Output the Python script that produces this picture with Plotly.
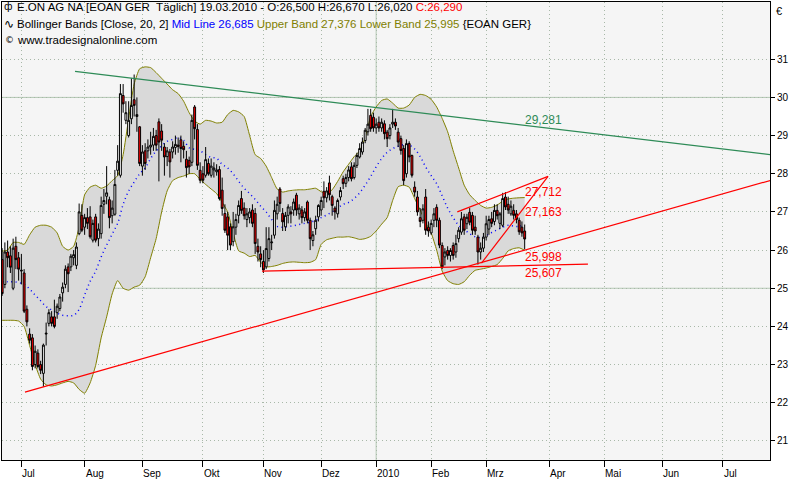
import plotly.graph_objects as go

# ---------------- data (trading-day index, 0 = 1 Jul 2009; last bar 19 Mar 2010 = 183) ----------------
first_day = -7

opens = [25.75, 25.10, 25.95, 25.85, 25.00, 26.10, 25.80,
         25.45, 25.40, 24.45, 23.80, 23.70, 23.00, 23.30, 23.00, 22.77, 23.80,
         24.08, 24.25, 24.25, 24.36, 24.47, 24.88, 25.10, 25.56, 25.56, 25.80,
         25.60, 26.43, 26.91, 26.60, 26.85, 26.87, 26.26, 26.87, 26.30, 26.43,
         27.20, 27.41, 27.32, 26.90, 26.94, 28.09, 27.96, 30.05, 29.40, 29.00,
         29.44, 29.94, 29.50, 29.23, 28.20, 28.60, 28.60, 28.70, 28.75, 29.00,
         29.36, 29.12, 28.70, 28.45, 28.57, 28.57, 28.69, 28.75, 28.89, 28.72,
         28.38, 28.35, 28.30, 29.75, 29.16, 28.09, 28.00, 27.96, 28.27, 27.96,
         28.10, 28.05, 28.11, 27.57, 26.96, 26.87, 26.61, 26.22, 26.60, 26.91,
         27.35, 27.10, 26.80, 26.85, 27.05, 26.96, 26.10, 25.90, 25.70, 25.56,
         25.78, 26.19, 26.39, 26.95, 27.60, 26.96, 26.61, 26.91, 27.00, 27.05,
         27.44, 26.95, 27.05, 26.85, 27.26, 26.78, 26.25, 26.56, 26.87, 27.05,
         27.54, 27.37, 27.76, 27.40, 27.10, 26.95, 27.39, 27.87, 27.75, 27.90,
         28.18, 27.90, 28.22, 28.44, 28.57, 28.87, 29.10, 29.53, 29.48, 29.20,
         29.35, 29.20, 29.31, 29.09, 29.00, 29.30, 29.35, 29.09, 28.92, 28.66,
         28.00, 28.79, 28.48, 27.65, 27.39, 26.85, 26.78, 27.39, 26.60, 26.45,
         26.78, 27.12, 26.78, 26.12, 25.82, 25.99, 25.86, 26.12, 25.95, 26.30,
         26.47, 26.87, 26.69, 26.99, 26.91, 26.60, 26.34, 25.95, 26.05, 26.34,
         26.55, 26.82, 26.75, 27.04, 26.70, 26.65, 27.39, 27.20, 26.95, 27.04,
         26.95, 26.78, 26.60, 26.50]

highs = [26.05, 26.20, 26.25, 26.10, 26.30, 26.35, 25.95,
         25.90, 25.50, 24.55, 23.95, 23.80, 23.50, 23.40, 23.10, 23.55, 24.10,
         24.45, 24.40, 24.70, 24.60, 24.85, 25.15, 25.60, 25.65, 25.90, 26.00,
         26.20, 27.22, 27.20, 26.95, 27.10, 27.15, 26.80, 26.95, 26.70, 27.40,
         27.60, 28.20, 27.40, 27.30, 28.10, 28.75, 30.35, 30.35, 29.90, 29.90,
         30.50, 30.60, 30.00, 29.25, 28.75, 28.80, 28.90, 29.10, 29.20, 29.15,
         29.45, 29.30, 28.80, 28.70, 28.65, 28.85, 29.00, 28.95, 29.00, 28.85,
         28.60, 28.45, 29.55, 29.80, 29.30, 28.30, 28.20, 28.70, 28.40, 28.40,
         28.30, 28.25, 28.20, 27.90, 27.20, 27.00, 26.70, 27.00, 26.95, 27.30,
         27.55, 27.25, 27.10, 27.10, 27.20, 27.10, 26.30, 26.10, 26.00, 26.60,
         26.60, 26.40, 27.30, 27.40, 27.65, 27.10, 27.00, 27.20, 27.15, 27.35,
         27.50, 27.20, 27.15, 27.10, 27.30, 26.85, 26.50, 26.90, 27.20, 27.40,
         27.80, 27.65, 27.95, 27.45, 27.15, 27.35, 27.65, 27.95, 28.00, 28.20,
         28.30, 28.30, 28.55, 28.80, 28.95, 29.20, 29.70, 29.70, 29.60, 29.45,
         29.50, 29.45, 29.40, 29.15, 29.30, 29.70, 29.45, 29.20, 29.00, 28.75,
         28.90, 28.85, 28.50, 27.80, 27.55, 27.10, 27.20, 27.60, 26.75, 26.80,
         27.10, 27.20, 26.85, 26.20, 26.05, 26.10, 26.05, 26.20, 26.40, 26.60,
         27.00, 26.95, 26.95, 27.10, 27.00, 26.90, 26.40, 26.20, 26.45, 26.90,
         26.90, 27.00, 27.20, 27.20, 27.00, 27.50, 27.52, 27.40, 27.30, 27.20,
         27.05, 26.85, 26.75, 26.67]

lows = [24.80, 25.00, 25.55, 25.40, 24.95, 25.50, 25.20,
        25.10, 24.35, 24.00, 23.55, 22.85, 22.90, 22.90, 22.75, 22.42, 23.50,
        24.00, 24.00, 23.95, 24.20, 24.40, 24.65, 25.00, 24.90, 25.45, 25.60,
        25.50, 26.39, 26.47, 26.40, 26.55, 26.30, 26.20, 26.20, 26.10, 26.30,
        26.95, 27.20, 26.57, 26.70, 26.90, 27.95, 27.90, 29.60, 29.30, 28.95,
        29.30, 29.50, 29.10, 28.20, 27.95, 28.10, 28.40, 28.50, 28.60, 28.60,
        27.80, 28.60, 27.95, 28.20, 27.90, 28.40, 28.50, 28.55, 28.30, 28.40,
        27.90, 28.00, 28.20, 28.90, 28.10, 27.75, 27.75, 27.90, 27.95, 27.90,
        27.90, 27.95, 27.30, 26.90, 26.45, 26.00, 26.00, 26.10, 26.40, 26.70,
        26.95, 26.80, 26.60, 26.70, 26.60, 25.90, 25.70, 25.55, 25.40, 25.50,
        25.70, 26.00, 26.30, 26.80, 27.00, 26.50, 26.50, 26.70, 26.70, 26.90,
        26.90, 26.80, 26.70, 26.75, 26.70, 26.00, 26.10, 26.40, 26.75, 26.90,
        27.10, 27.25, 27.30, 26.90, 26.80, 26.85, 27.30, 27.60, 27.65, 27.80,
        27.80, 27.85, 28.15, 28.40, 28.50, 28.80, 29.00, 29.10, 29.10, 29.05,
        29.10, 29.10, 28.90, 28.70, 28.90, 29.20, 29.15, 28.70, 28.50, 27.70,
        27.90, 28.30, 27.90, 27.40, 26.90, 26.60, 26.70, 26.40, 26.35, 26.40,
        26.60, 26.60, 26.05, 25.50, 25.60, 25.75, 25.70, 25.75, 25.80, 26.20,
        26.40, 26.40, 26.55, 26.65, 26.40, 26.40, 25.62, 25.75, 25.95, 26.25,
        26.40, 26.60, 26.65, 26.80, 26.55, 26.60, 27.05, 26.95, 26.90, 26.80,
        26.70, 26.40, 26.35, 26.02]

closes = [24.86, 25.95, 25.80, 25.55, 26.05, 25.75, 25.50,
          25.47, 24.40, 24.12, 23.64, 22.95, 23.35, 22.95, 22.85, 23.51, 23.82,
          24.36, 24.08, 24.00, 24.53, 24.77, 25.03, 25.50, 25.38, 25.84, 25.88,
          26.08, 27.00, 26.52, 26.85, 26.70, 26.35, 26.70, 26.26, 26.55, 27.17,
          27.30, 27.50, 26.85, 27.10, 27.72, 28.33, 30.10, 29.83, 29.60, 29.40,
          29.79, 29.79, 29.55, 28.27, 28.57, 28.27, 28.70, 28.75, 28.98, 28.75,
          28.83, 28.88, 28.44, 28.60, 28.31, 28.70, 28.77, 28.72, 28.66, 28.63,
          28.16, 28.18, 29.40, 29.18, 28.22, 27.83, 27.83, 28.37, 28.00, 28.20,
          28.15, 28.10, 27.35, 27.09, 26.52, 26.39, 26.13, 26.61, 26.80, 27.17,
          27.04, 26.90, 26.95, 27.00, 26.70, 26.17, 25.95, 25.75, 25.48, 26.04,
          26.30, 26.21, 27.04, 27.20, 27.22, 26.74, 26.91, 27.13, 26.95, 27.26,
          27.05, 27.10, 26.85, 27.00, 26.78, 26.30, 26.40, 26.78, 27.17, 27.30,
          27.37, 27.55, 27.45, 27.17, 27.00, 27.30, 27.56, 27.74, 27.90, 28.10,
          27.87, 28.22, 28.48, 28.66, 28.83, 29.14, 29.30, 29.18, 29.20, 29.30,
          29.20, 29.35, 29.05, 28.92, 29.20, 29.35, 29.25, 28.83, 28.61, 27.82,
          28.79, 28.44, 27.96, 27.52, 27.00, 26.75, 27.08, 26.52, 26.50, 26.70,
          26.95, 26.78, 26.13, 25.56, 25.95, 25.86, 25.99, 25.86, 26.17, 26.52,
          26.82, 26.52, 26.86, 26.73, 26.52, 26.50, 25.95, 26.05, 26.34, 26.69,
          26.80, 26.70, 27.04, 26.90, 26.95, 27.35, 27.13, 27.05, 27.15, 26.91,
          26.80, 26.48, 26.45, 26.29]

days = list(range(first_day, first_day + len(closes)))

# Bollinger Bands [Close, 20, 2] read every second trading day
band_days = list(range(-7, 184, 2))
upper_band = [25.97, 26.00, 26.20, 26.20, 26.15, 26.40, 26.60, 26.65, 26.65, 26.60,
              26.45, 26.10, 26.00, 26.10, 26.60, 27.45, 27.65, 27.70, 27.62, 27.68,
              27.82, 27.95, 28.50, 29.45, 30.35, 30.75, 30.80, 30.78, 30.65, 30.50,
              30.35, 30.20, 30.10, 29.90, 29.60, 29.38, 29.30, 29.40, 29.38, 29.33,
              29.35, 29.55, 29.66, 29.62, 29.50, 29.00, 28.50, 28.40, 28.20, 27.90,
              27.60, 27.52, 27.55, 27.57, 27.58, 27.58, 27.60, 27.62, 27.53, 27.48,
              27.58, 27.80, 28.05, 28.25, 28.45, 28.60, 28.95, 29.50, 29.75, 29.92,
              29.96, 29.85, 29.72, 29.72, 29.80, 30.00, 30.08, 30.05, 29.95, 29.75,
              29.45, 29.10, 28.60, 28.15, 27.70, 27.45, 27.30, 27.17, 27.10, 27.12,
              27.18, 27.28, 27.34, 27.36, 27.37, 27.376]
lower_band = [24.16, 24.16, 24.16, 24.14, 24.00, 23.50, 23.00, 22.62, 22.47, 22.44,
              22.47, 22.52, 22.56, 22.52, 22.35, 22.25, 22.52, 22.98, 23.70, 24.25,
              24.85, 25.20, 25.00, 24.95, 25.03, 25.08, 25.30, 25.80, 26.30, 27.00,
              27.55, 27.82, 27.90, 27.94, 28.00, 28.00, 27.85, 27.72, 27.60, 27.48,
              27.25, 27.00, 26.45, 25.98, 25.92, 25.83, 25.86, 25.68, 25.56, 25.57,
              25.60, 25.65, 25.68, 25.69, 25.68, 25.67, 25.68, 25.75, 26.15, 26.27,
              26.31, 26.34, 26.34, 26.35, 26.32, 26.28, 26.30, 26.36, 26.50, 26.68,
              26.85, 27.30, 27.66, 27.70, 27.65, 27.35, 27.05, 26.72, 26.45, 26.00,
              25.45, 25.20, 25.12, 25.10, 25.17, 25.34, 25.47, 25.50, 25.53, 25.57,
              25.62, 25.78, 25.98, 26.04, 26.06, 25.995]
mid_line = [25.17, 25.17, 25.17, 25.15, 25.10, 24.98, 24.82, 24.67, 24.52, 24.43,
            24.35, 24.29, 24.28, 24.29, 24.45, 24.82, 25.18, 25.45, 25.82, 26.13,
            26.42, 26.70, 27.20, 27.55, 27.78, 28.00, 28.15, 28.40, 28.60, 28.73,
            28.85, 28.90, 28.95, 28.88, 28.68, 28.64, 28.60, 28.50, 28.43, 28.40,
            28.25, 28.15, 28.00, 27.80, 27.62, 27.48, 27.33, 27.15, 27.00, 26.80,
            26.62, 26.60, 26.62, 26.64, 26.67, 26.70, 26.73, 26.78, 26.85, 26.92,
            27.00, 27.10, 27.20, 27.25, 27.35, 27.50, 27.70, 27.93, 28.18, 28.40,
            28.56, 28.66, 28.72, 28.76, 28.75, 28.65, 28.45, 28.18, 27.95, 27.74,
            27.42, 27.10, 26.85, 26.65, 26.54, 26.43, 26.35, 26.33, 26.38, 26.46,
            26.53, 26.60, 26.65, 26.63, 26.62, 26.685]

# drawn trend lines: (start day, end day), (start price, end price)
green_days, green_prices = [19.5, 275.0], [30.68, 28.476]
support_days, support_prices = [1.3, 275.0], [22.28, 27.88]
floor_days, floor_prices = [87.5, 206.0], [25.45, 25.63]
channel_days, channel_prices = [158.5, 191.5], [27.00, 27.93]
steep_days, steep_prices = [167.3, 191.5], [25.66, 27.93]

# value labels of the trend lines at the last bar
label_texts = ["29,281", "27,712", "27,163", "25,998", "25,607"]
label_prices = [29.41, 27.52, 27.00, 25.81, 25.41]
label_colors = ["#2e8b57", "#ff0000", "#ff0000", "#ff0000", "#ff0000"]

# month ticks (trading-day index) and labels
tick_days = [0, 23, 44, 66, 88, 109, 129, 149, 169, 192, 212, 233, 255]
tick_labels = ["Jul", "Aug", "Sep", "Okt", "Nov", "Dez", "2010", "Feb", "Mrz", "Apr", "Mai", "Jun", "Jul"]
price_ticks = [21, 22, 23, 24, 25, 26, 27, 28, 29, 30, 31]

# ---------------- figure ----------------
OLIVE = "#808000"
FONT = "Liberation Sans, Arial, sans-serif"
YRANGE = [20.5, 32.5]
fig = go.Figure()

# layer 1 (y): Bollinger band
fig.add_trace(go.Scatter(x=band_days, y=lower_band, mode="lines",
                         line=dict(color=OLIVE, width=1, shape="spline", smoothing=0.5),
                         hoverinfo="skip", showlegend=False))
fig.add_trace(go.Scatter(x=band_days, y=upper_band, mode="lines",
                         line=dict(color=OLIVE, width=1, shape="spline", smoothing=0.5),
                         fill="tonexty", fillcolor="#d9d9d9",
                         hoverinfo="skip", showlegend=False))
fig.add_trace(go.Scatter(x=band_days, y=mid_line, mode="lines",
                         line=dict(color="#0000ff", width=1.5, dash="1px,3.5px", shape="spline"),
                         hoverinfo="skip", showlegend=False))

# layer 2 (y2): candles above the band
fig.add_trace(go.Candlestick(
    x=days, open=opens, high=highs, low=lows, close=closes, yaxis="y2",
    increasing=dict(line=dict(color="black", width=1), fillcolor="white"),
    decreasing=dict(line=dict(color="black", width=1), fillcolor="#ff0000"),
    whiskerwidth=0, showlegend=False, hoverinfo="skip"))

# layer 3 (y3): trend lines on top
for dx, py, col in [(green_days, green_prices, "#2e8b57"),
                    (support_days, support_prices, "#ff0000"),
                    (floor_days, floor_prices, "#ff0000"),
                    (channel_days, channel_prices, "#ff0000"),
                    (steep_days, steep_prices, "#ff0000")]:
    fig.add_trace(go.Scatter(x=dx, y=py, mode="lines", yaxis="y3",
                             line=dict(color=col, width=1.2),
                             hoverinfo="skip", showlegend=False))

# solid reference lines (25, 30 and year change)
for yv in (25, 30):
    fig.add_shape(type="line", xref="paper", x0=0, x1=1, yref="y", y0=yv, y1=yv,
                  line=dict(color="#b4c8b4", width=1), layer="below")
fig.add_shape(type="line", xref="x", x0=tick_days[6], x1=tick_days[6], yref="paper", y0=0, y1=1,
              line=dict(color="#b4c8b4", width=1), layer="below")

annotations = []
for t, p, c in zip(label_texts, label_prices, label_colors):
    annotations.append(dict(x=days[-1], y=p, xref="x", yref="y", text=t, showarrow=False,
                            xanchor="left", yanchor="middle", xshift=-2,
                            font=dict(family=FONT, size=12, color=c)))
for d, t in zip(tick_days, tick_labels):
    annotations.append(dict(x=d, y=0, xref="x", yref="paper", text=t, showarrow=False,
                            xanchor="left", yanchor="middle", xshift=-1, yshift=-13,
                            font=dict(family=FONT, size=10, color="black")))

W, H, L, T = 768.0, 458.0, 2.0, 2.0
def hdr(xpx, ypx, text, size=11.5, color="black", family=FONT):
    annotations.append(dict(x=(xpx - L) / W, y=1 - (ypx - T) / H, xref="paper", yref="paper",
                            text=text, showarrow=False, xanchor="left", yanchor="middle",
                            font=dict(family=family, size=size, color=color)))

hdr(2, 7, "ф", 10, family="DejaVu Sans")
hdr(15, 7, "E.ON AG NA [EOAN GER\u00a0 Täglich] 19.03.2010 - O:26,500 H:26,670 L:26,020 "
           "<span style='color:#ff0000'>C:26,290</span>")
hdr(2, 24, "∿", 12, family="DejaVu Sans")
hdr(15, 24, "Bollinger Bands [Close, 20, 2] <span style='color:#0000ff'>Mid Line 26,685</span> "
            "<span style='color:#808000'>Upper Band 27,376 Lower Band 25,995</span> {EOAN GER}")
hdr(3, 40, "©", 9, family="DejaVu Sans")
hdr(15, 40, "www.tradesignalonline.com")

annotations.append(dict(x=1, y=1, xref="paper", yref="paper", text="€", showarrow=False,
                        xanchor="left", yanchor="middle", xshift=4, yshift=-9,
                        font=dict(family=FONT, size=11, color="black")))

GRID = dict(showgrid=True, gridcolor="#a8b8a8", griddash="1px,3px", gridwidth=1, zeroline=False)
fig.update_layout(
    width=800, height=480,
    margin=dict(l=2, r=30, t=2, b=20),
    paper_bgcolor="white", plot_bgcolor="#f5f5f5",
    showlegend=False, boxgap=0.02,
    annotations=annotations,
    xaxis=dict(range=[-7.05, 272.2], tickmode="array", tickvals=tick_days, showticklabels=False,
               ticks="outside", ticklen=6, tickcolor="black",
               showline=True, mirror=True, linecolor="black", linewidth=1,
               rangeslider=dict(visible=False), fixedrange=True, **GRID),
    yaxis=dict(range=YRANGE, side="right", tickmode="array", tickvals=price_ticks,
               ticks="outside", ticklen=4, tickcolor="black",
               tickfont=dict(family=FONT, size=10, color="black"),
               showline=True, mirror=True, linecolor="black", linewidth=1, fixedrange=True, **GRID),
    yaxis2=dict(range=YRANGE, overlaying="y", visible=False, fixedrange=True),
    yaxis3=dict(range=YRANGE, overlaying="y", visible=False, fixedrange=True),
)

fig.write_html("out.html", config={"displayModeBar": False},
               post_script="document.body.style.margin='0';")
